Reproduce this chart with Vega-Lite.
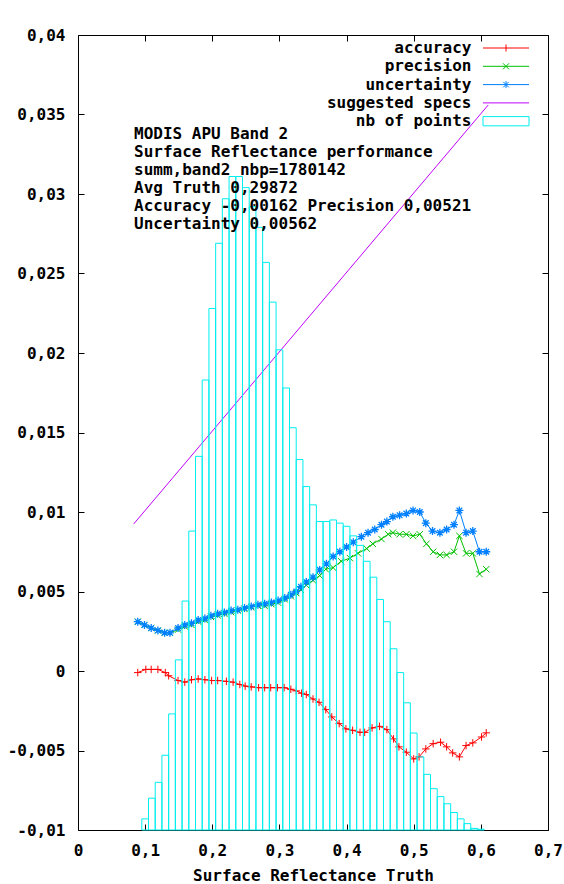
{
  "$schema": "https://vega.github.io/schema/vega-lite/v6.json",
  "width": 470,
  "height": 795,
  "autosize": {"type": "none"},
  "padding": {"left": 78, "top": 35, "right": 16, "bottom": 54},
  "background": "white",
  "title": {
    "text": ["MODIS APU Band 2", "Surface Reflectance performance", "summ,band2 nbp=1780142", "Avg Truth 0,29872", "Accuracy -0,00162 Precision 0,00521", "Uncertainty 0,00562"],
    "anchor": "start", "frame": "group", "orient": "top", "align": "left", "baseline": "top",
    "offset": -92, "dx": 56, "dy": 113, "font": "DejaVu Sans Mono", "fontWeight": "bold", "fontSize": 16,
    "lineHeight": 18, "color": "black"
  },
  "config": {
    "view": {"stroke": "black", "strokeWidth": 1, "fill": "white"},
    "axis": {
      "grid": false, "domain": false, "tickSize": -6, "tickColor": "black", "tickWidth": 1,
      "labelFont": "DejaVu Sans Mono", "labelFontWeight": "bold", "labelFontSize": 16, "labelColor": "black",
      "titleFont": "DejaVu Sans Mono", "titleFontWeight": "bold", "titleFontSize": 16, "titleColor": "black",
      "labelFlush": false, "labelOverlap": false
    }
  },
  "datasets": {
    "acc": [
      {"x":0.089,"y":-0.0001},{"x":0.101,"y":0.0001},{"x":0.109,"y":0.0001},{"x":0.119,"y":0.0001},{"x":0.130,"y":-0.0001},{"x":0.135,"y":-0.0003},{"x":0.149,"y":-0.0006},{"x":0.159,"y":-0.0007},{"x":0.169,"y":-0.00055},{"x":0.179,"y":-0.0005},{"x":0.189,"y":-0.00055},{"x":0.199,"y":-0.0006},{"x":0.208,"y":-0.0006},{"x":0.221,"y":-0.00065},{"x":0.231,"y":-0.0007},{"x":0.241,"y":-0.00085},{"x":0.249,"y":-0.00095},{"x":0.258,"y":-0.001},{"x":0.269,"y":-0.00105},{"x":0.278,"y":-0.00105},{"x":0.287,"y":-0.00105},{"x":0.297,"y":-0.00105},{"x":0.307,"y":-0.00105},{"x":0.317,"y":-0.00115},{"x":0.325,"y":-0.00125},{"x":0.333,"y":-0.0014},{"x":0.340,"y":-0.00148},{"x":0.350,"y":-0.00176},{"x":0.359,"y":-0.00197},{"x":0.369,"y":-0.00243},{"x":0.378,"y":-0.00289},{"x":0.389,"y":-0.00331},{"x":0.399,"y":-0.00364},{"x":0.409,"y":-0.00373},{"x":0.420,"y":-0.00386},{"x":0.427,"y":-0.00386},{"x":0.438,"y":-0.00358},{"x":0.449,"y":-0.00348},{"x":0.460,"y":-0.00369},{"x":0.470,"y":-0.00427},{"x":0.478,"y":-0.00477},{"x":0.489,"y":-0.00511},{"x":0.500,"y":-0.00553},{"x":0.508,"y":-0.0054},{"x":0.518,"y":-0.0049},{"x":0.529,"y":-0.00457},{"x":0.540,"y":-0.00448},{"x":0.549,"y":-0.00477},{"x":0.558,"y":-0.00515},{"x":0.568,"y":-0.0054},{"x":0.578,"y":-0.00469},{"x":0.588,"y":-0.00452},{"x":0.601,"y":-0.00415},{"x":0.608,"y":-0.00389}
    ],
    "prec": [
      {"x":0.089,"y":0.0031},{"x":0.099,"y":0.0029},{"x":0.109,"y":0.0027},{"x":0.119,"y":0.00255},{"x":0.129,"y":0.0024},{"x":0.137,"y":0.0024},{"x":0.149,"y":0.0026},{"x":0.159,"y":0.0028},{"x":0.169,"y":0.0029},{"x":0.179,"y":0.0031},{"x":0.189,"y":0.0032},{"x":0.198,"y":0.0034},{"x":0.208,"y":0.0035},{"x":0.218,"y":0.0036},{"x":0.228,"y":0.0037},{"x":0.238,"y":0.0038},{"x":0.248,"y":0.0039},{"x":0.258,"y":0.004},{"x":0.268,"y":0.0041},{"x":0.278,"y":0.0041},{"x":0.288,"y":0.0042},{"x":0.298,"y":0.0043},{"x":0.308,"y":0.0045},{"x":0.317,"y":0.0047},{"x":0.325,"y":0.0049},{"x":0.332,"y":0.0051},{"x":0.340,"y":0.0054},{"x":0.350,"y":0.0057},{"x":0.360,"y":0.006},{"x":0.369,"y":0.0064},{"x":0.380,"y":0.0065},{"x":0.392,"y":0.0069},{"x":0.405,"y":0.0071},{"x":0.417,"y":0.0074},{"x":0.430,"y":0.0077},{"x":0.439,"y":0.008},{"x":0.452,"y":0.0083},{"x":0.462,"y":0.0086},{"x":0.469,"y":0.0087},{"x":0.479,"y":0.0086},{"x":0.489,"y":0.0086},{"x":0.499,"y":0.0085},{"x":0.509,"y":0.0086},{"x":0.519,"y":0.008},{"x":0.529,"y":0.0075},{"x":0.539,"y":0.0073},{"x":0.549,"y":0.0073},{"x":0.560,"y":0.0075},{"x":0.568,"y":0.0085},{"x":0.578,"y":0.0074},{"x":0.588,"y":0.0074},{"x":0.598,"y":0.0061},{"x":0.608,"y":0.0064}
    ],
    "unc": [
      {"x":0.089,"y":0.0031},{"x":0.099,"y":0.0029},{"x":0.109,"y":0.0027},{"x":0.119,"y":0.00255},{"x":0.129,"y":0.0024},{"x":0.137,"y":0.0024},{"x":0.149,"y":0.0027},{"x":0.159,"y":0.0029},{"x":0.169,"y":0.003},{"x":0.179,"y":0.0032},{"x":0.189,"y":0.0033},{"x":0.198,"y":0.00347},{"x":0.208,"y":0.0036},{"x":0.218,"y":0.00368},{"x":0.228,"y":0.0038},{"x":0.238,"y":0.00385},{"x":0.248,"y":0.00396},{"x":0.258,"y":0.00406},{"x":0.268,"y":0.00416},{"x":0.278,"y":0.00423},{"x":0.288,"y":0.00431},{"x":0.298,"y":0.00443},{"x":0.308,"y":0.00459},{"x":0.317,"y":0.00479},{"x":0.325,"y":0.005},{"x":0.332,"y":0.0053},{"x":0.340,"y":0.0056},{"x":0.350,"y":0.0059},{"x":0.360,"y":0.00636},{"x":0.370,"y":0.00674},{"x":0.380,"y":0.0072},{"x":0.390,"y":0.0075},{"x":0.400,"y":0.0078},{"x":0.410,"y":0.0081},{"x":0.422,"y":0.00845},{"x":0.432,"y":0.0087},{"x":0.442,"y":0.0089},{"x":0.452,"y":0.0092},{"x":0.460,"y":0.0094},{"x":0.469,"y":0.0097},{"x":0.479,"y":0.0098},{"x":0.489,"y":0.0099},{"x":0.499,"y":0.0101},{"x":0.509,"y":0.01},{"x":0.518,"y":0.0093},{"x":0.528,"y":0.0088},{"x":0.539,"y":0.0087},{"x":0.549,"y":0.0089},{"x":0.560,"y":0.0092},{"x":0.568,"y":0.0101},{"x":0.578,"y":0.0087},{"x":0.588,"y":0.0088},{"x":0.598,"y":0.0075},{"x":0.608,"y":0.0075}
    ],
    "spec": [
      {"x":0.083,"y":0.00925},{"x":0.611,"y":0.0356}
    ],
    "hist": [
      {"lo":0.095,"hi":0.105,"v":-0.0093},{"lo":0.105,"hi":0.115,"v":-0.008},{"lo":0.115,"hi":0.125,"v":-0.007},{"lo":0.125,"hi":0.135,"v":-0.0053},{"lo":0.135,"hi":0.145,"v":-0.0027},{"lo":0.145,"hi":0.155,"v":0.0007},{"lo":0.155,"hi":0.165,"v":0.0044},{"lo":0.165,"hi":0.175,"v":0.0088},{"lo":0.175,"hi":0.185,"v":0.0135},{"lo":0.185,"hi":0.195,"v":0.0183},{"lo":0.195,"hi":0.205,"v":0.0228},{"lo":0.205,"hi":0.215,"v":0.0269},{"lo":0.215,"hi":0.225,"v":0.0297},{"lo":0.225,"hi":0.235,"v":0.0311},{"lo":0.235,"hi":0.245,"v":0.0311},{"lo":0.245,"hi":0.255,"v":0.0304},{"lo":0.255,"hi":0.265,"v":0.0292},{"lo":0.265,"hi":0.275,"v":0.0279},{"lo":0.275,"hi":0.285,"v":0.0257},{"lo":0.285,"hi":0.295,"v":0.0232},{"lo":0.295,"hi":0.305,"v":0.0202},{"lo":0.305,"hi":0.315,"v":0.0178},{"lo":0.315,"hi":0.325,"v":0.0153},{"lo":0.325,"hi":0.335,"v":0.0133},{"lo":0.335,"hi":0.345,"v":0.0116},{"lo":0.345,"hi":0.355,"v":0.01045},{"lo":0.355,"hi":0.365,"v":0.0094},{"lo":0.365,"hi":0.375,"v":0.0094},{"lo":0.375,"hi":0.385,"v":0.0095},{"lo":0.385,"hi":0.395,"v":0.0093},{"lo":0.395,"hi":0.405,"v":0.0091},{"lo":0.405,"hi":0.415,"v":0.0085},{"lo":0.415,"hi":0.425,"v":0.0079},{"lo":0.425,"hi":0.435,"v":0.0069},{"lo":0.435,"hi":0.445,"v":0.0059},{"lo":0.445,"hi":0.455,"v":0.0045},{"lo":0.455,"hi":0.465,"v":0.0031},{"lo":0.465,"hi":0.475,"v":0.0014},{"lo":0.475,"hi":0.485,"v":-0.0001},{"lo":0.485,"hi":0.495,"v":-0.002},{"lo":0.495,"hi":0.505,"v":-0.0039},{"lo":0.505,"hi":0.515,"v":-0.0054},{"lo":0.515,"hi":0.525,"v":-0.0065},{"lo":0.525,"hi":0.535,"v":-0.0074},{"lo":0.535,"hi":0.545,"v":-0.0079},{"lo":0.545,"hi":0.555,"v":-0.00835},{"lo":0.555,"hi":0.565,"v":-0.0089},{"lo":0.565,"hi":0.575,"v":-0.0093},{"lo":0.575,"hi":0.585,"v":-0.0096},{"lo":0.585,"hi":0.595,"v":-0.0099},{"lo":0.595,"hi":0.605,"v":-0.00995}
    ]
  },
  "layer": [
    {
      "data": {"name": "acc"},
      "mark": {"type": "line", "strokeWidth": 1, "point": {"shape": "M-1,0L1,0M0,-1L0,1", "filled": false, "size": 56, "strokeWidth": 1}},
      "encoding": {
        "x": {"field": "x", "type": "quantitative", "scale": {"domain": [0, 0.7], "nice": false, "zero": false},
          "axis": {"orient": "bottom", "values": [0, 0.1, 0.2, 0.3, 0.4, 0.5, 0.6, 0.7], "labelExpr": "replace(toString(datum.value), '.', ',')", "labelBaseline": "alphabetic", "labelPadding": 31.5, "title": "Surface Reflectance Truth", "titleBaseline": "alphabetic", "titleY": 50}},
        "y": {"field": "y", "type": "quantitative", "scale": {"domain": [-0.01, 0.04], "nice": false, "zero": false},
          "axis": {"orient": "left", "values": [-0.01, -0.005, 0, 0.005, 0.01, 0.015, 0.02, 0.025, 0.03, 0.035, 0.04], "labelExpr": "replace(toString(datum.value), '.', ',')", "labelPadding": 19, "title": null}},
        "color": {"datum": "accuracy", "type": "nominal",
          "scale": {"domain": ["accuracy", "precision", "uncertainty", "suggested specs", "nb of points"], "range": ["#ff0000", "#00c000", "#0080ff", "#c000ff", "#00eeee"]},
          "legend": {
            "orient": "none", "legendX": 420, "legendY": 5, "title": null, "padding": 0,
            "symbolSize": 100, "symbolStrokeWidth": 1, "symbolOffset": 0,
            "labelFont": "DejaVu Sans Mono", "labelFontWeight": "bold", "labelFontSize": 16, "labelColor": "black",
            "labelAlign": "right", "labelOffset": -42.6, "rowPadding": 2.3, "labelLimit": 400,
            "encode": {"symbols": {"update": {
              "shape": {"signal": "datum.value === 'accuracy' ? 'M-4.6,0L4.6,0M0,-0.7L0,0.7' : datum.value === 'precision' ? 'M-4.6,0L4.6,0M-0.6,-0.6L0.6,0.6M-0.6,0.6L0.6,-0.6' : datum.value === 'uncertainty' ? 'M-4.6,0L4.6,0M0,-0.7L0,0.7M-0.55,-0.55L0.55,0.55M-0.55,0.55L0.55,-0.55' : datum.value === 'suggested specs' ? 'M-4.6,0L4.6,0' : 'M-4.6,-0.92L4.6,-0.92L4.6,0.92L-4.6,0.92Z'"},
              "stroke": {"scale": "color", "field": "value"},
              "fill": {"value": "transparent"},
              "strokeWidth": {"value": 1},
              "opacity": {"value": 1}
            }}}
          }}
      }
    },
    {
      "data": {"name": "prec"},
      "mark": {"type": "line", "strokeWidth": 1, "point": {"shape": "M-1,-1L1,1M-1,1L1,-1", "filled": false, "size": 40, "strokeWidth": 1}},
      "encoding": {
        "x": {"field": "x", "type": "quantitative", "axis": {"orient": "top", "values": [0, 0.1, 0.2, 0.3, 0.4, 0.5, 0.6, 0.7], "labels": false, "title": null}},
        "y": {"field": "y", "type": "quantitative", "axis": {"orient": "right", "values": [-0.01, -0.005, 0, 0.005, 0.01, 0.015, 0.02, 0.025, 0.03, 0.035, 0.04], "labels": false, "title": null}},
        "color": {"datum": "precision", "type": "nominal"}
      }
    },
    {
      "data": {"name": "unc"},
      "mark": {"type": "line", "strokeWidth": 1, "point": {"shape": "M-1,0L1,0M0,-1L0,1M-0.7,-0.7L0.7,0.7M-0.7,0.7L0.7,-0.7", "filled": false, "size": 64, "strokeWidth": 1.3}},
      "encoding": {
        "x": {"field": "x", "type": "quantitative", "axis": null},
        "y": {"field": "y", "type": "quantitative", "axis": null},
        "color": {"datum": "uncertainty", "type": "nominal"}
      }
    },
    {
      "data": {"name": "spec"},
      "mark": {"type": "line", "strokeWidth": 1},
      "encoding": {
        "x": {"field": "x", "type": "quantitative", "axis": null},
        "y": {"field": "y", "type": "quantitative", "axis": null},
        "color": {"datum": "suggested specs", "type": "nominal"}
      }
    },
    {
      "data": {"name": "hist"},
      "mark": {"type": "rect", "filled": false, "strokeWidth": 1},
      "encoding": {
        "x": {"field": "lo", "type": "quantitative", "axis": null},
        "x2": {"field": "hi"},
        "y": {"field": "v", "type": "quantitative", "axis": null},
        "y2": {"datum": -0.01},
        "color": {"datum": "nb of points", "type": "nominal"}
      }
    }
  ],
  "resolve": {"axis": {"x": "independent", "y": "independent"}}
}
